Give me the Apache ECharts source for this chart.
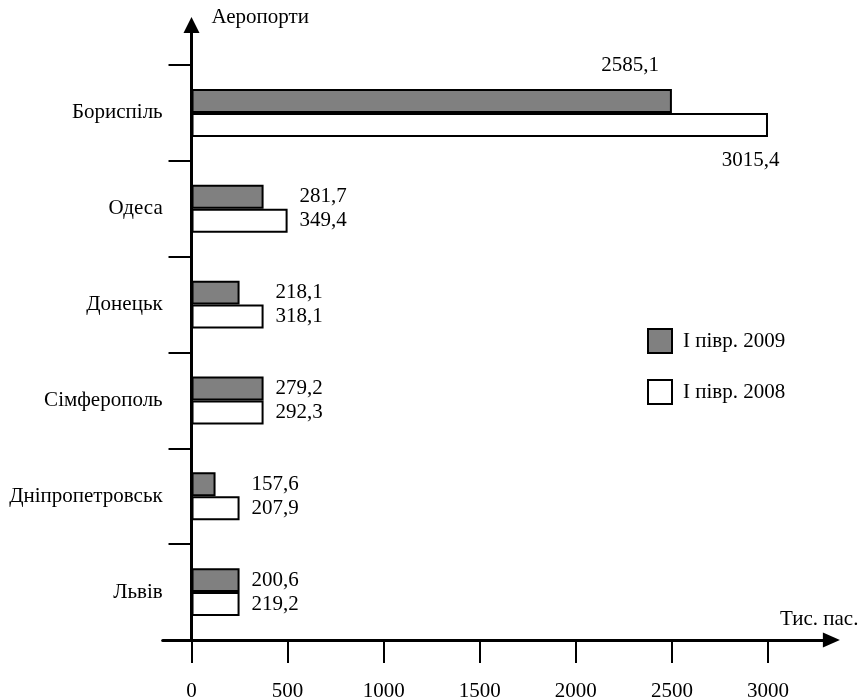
<!DOCTYPE html>
<html>
<head>
<meta charset="utf-8">
<script src="https://cdn.jsdelivr.net/npm/echarts@6/dist/echarts.min.js"></script>
<style>html,body{margin:0;padding:0;background:#fff}#c{width:863px;height:700px}</style>
</head>
<body>
<div id="c"></div>
<script>
var categories = ['Бориспіль', 'Одеса', 'Донецьк', 'Сімферополь', 'Дніпропетровськ', 'Львів'];
var bars2009 = [2500, 375, 250, 375, 125, 250];
var bars2008 = [3000, 500, 375, 375, 250, 250];
var labels2009 = ['2585,1', '281,7', '218,1', '279,2', '157,6', '200,6'];
var labels2008 = ['3015,4', '349,4', '318,1', '292,3', '207,9', '219,2'];
var xTicks = [0, 500, 1000, 1500, 2000, 2500, 3000];
var seriesNames = ['І півр. 2009', 'І півр. 2008'];

var FONT = 'Liberation Serif';
var FS = 21;
var pad2009 = bars2009.map(function (v, i) { return Math.max(v, bars2008[i]) - v; });

var chart = echarts.init(document.getElementById('c'), null, {renderer: 'canvas'});
var gridL = 162.7, gridR = 31.6;
var option = {
  animation: false,
  textStyle: {fontFamily: FONT, color: '#000'},
  grid: [
    {left: gridL, right: gridR, top: 65, bottom: 60, containLabel: false, outerBoundsMode: 'none'},
    {left: gridL, right: gridR, top: 25, bottom: 60, containLabel: false, outerBoundsMode: 'none'}
  ],
  legend: {
    data: seriesNames,
    orient: 'vertical',
    left: 647, top: 328,
    itemWidth: 24, itemHeight: 24, itemGap: 25,
    padding: 0,
    icon: 'rect',
    textStyle: {fontFamily: FONT, fontSize: FS, color: '#000', padding: [0, 0, 0, 6]}
  },
  xAxis: [
    {
      type: 'value', gridIndex: 0, min: -150, max: 3330,
      name: 'Тис. пас.', nameLocation: 'end', nameGap: 27,
      nameTextStyle: {fontFamily: FONT, fontSize: FS, color: '#000', align: 'right', verticalAlign: 'bottom', padding: [0, 0, 10, 0]},
      axisLine: {show: true, onZero: false, symbol: ['none', 'triangle'], symbolSize: [15, 17], lineStyle: {color: '#000', width: 3}},
      axisTick: {show: true, customValues: xTicks, length: 23, lineStyle: {color: '#000', width: 2}},
      axisLabel: {show: true, customValues: xTicks, margin: 41, fontFamily: FONT, fontSize: FS, color: '#000',
        formatter: function (v) { return String(v); }},
      splitLine: {show: false}
    },
    {
      type: 'value', gridIndex: 1, min: -150, max: 3330, show: false
    }
  ],
  yAxis: [
    {
      type: 'category', gridIndex: 0, data: categories, inverse: true,
      axisLine: {show: true, onZero: true, lineStyle: {color: '#000', width: 3}},
      axisTick: {show: true, length: 23, lineStyle: {color: '#000', width: 2}},
      axisLabel: {margin: 0, fontFamily: FONT, fontSize: FS, color: '#000'},
      splitLine: {show: false}
    },
    {
      type: 'value', gridIndex: 1,
      name: 'Аеропорти', nameLocation: 'end', nameGap: 8,
      nameTextStyle: {fontFamily: FONT, fontSize: FS, color: '#000', align: 'left', verticalAlign: 'middle', padding: [0, 0, 0, 20]},
      axisLine: {show: true, onZero: true, symbol: ['none', 'triangle'], symbolSize: [16, 16], lineStyle: {color: '#000', width: 3}},
      axisTick: {show: false}, axisLabel: {show: false}, splitLine: {show: false}
    }
  ],
  series: [
    {
      name: seriesNames[0], type: 'bar', stack: 'a', xAxisIndex: 0, yAxisIndex: 0,
      barCategoryGap: '50%', barGap: 0,
      itemStyle: {color: '#808080', borderColor: '#000', borderWidth: 2},
      data: bars2009.map(function (v, i) {
        if (i === 0) {
          return {value: v, label: {show: true, position: ['91.3%', -23], align: 'center', verticalAlign: 'middle',
            formatter: labels2009[i], fontFamily: FONT, fontSize: FS, color: '#000'}};
        }
        return v;
      })
    },
    {
      name: 'pad', type: 'bar', stack: 'a', xAxisIndex: 0, yAxisIndex: 0,
      itemStyle: {color: 'rgba(0,0,0,0)', borderWidth: 0},
      silent: true,
      label: {show: true, position: 'right', distance: 12, fontFamily: FONT, fontSize: FS, color: '#000',
        formatter: function (p) { return labels2009[p.dataIndex]; }},
      data: pad2009.map(function (v, i) {
        return i === 0 ? {value: v, label: {show: false}} : v;
      })
    },
    {
      name: seriesNames[1], type: 'bar', stack: 'b', xAxisIndex: 0, yAxisIndex: 0,
      barCategoryGap: '50%', barGap: 0,
      itemStyle: {color: '#fff', borderColor: '#000', borderWidth: 2},
      label: {show: true, position: 'right', distance: 12, fontFamily: FONT, fontSize: FS, color: '#000',
        formatter: function (p) { return labels2008[p.dataIndex]; }},
      data: bars2008.map(function (v, i) {
        if (i === 0) {
          return {value: v, label: {show: true, position: ['97%', 48], align: 'center', verticalAlign: 'middle',
            formatter: labels2008[i], fontFamily: FONT, fontSize: FS, color: '#000'}};
        }
        return v;
      })
    }
  ]
};
chart.setOption(option);
</script>
</body>
</html>
